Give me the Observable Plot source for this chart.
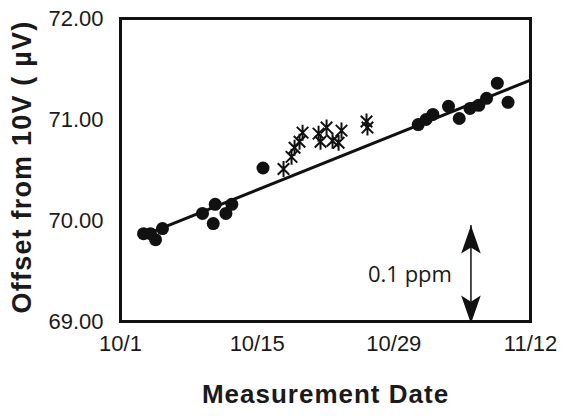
<!DOCTYPE html>
<html>
<head>
<meta charset="utf-8">
<script src="https://cdn.jsdelivr.net/npm/d3@7"></script>
<script src="https://cdn.jsdelivr.net/npm/@observablehq/plot@0.6"></script>
<style>
  html, body { margin: 0; padding: 0; background: #ffffff; }
</style>
</head>
<body>
<div id="chart"></div>
<script>
// Days after 10/1 and offsets from 10 V (µV)
const circleDay = [2.36, 3.07, 3.59, 4.30, 8.4, 9.5, 9.7, 10.8, 11.4, 14.6, 30.5, 31.3, 32.0, 33.6, 34.7, 35.8, 36.7, 37.5, 38.6, 39.7];
const circleVal = [69.87, 69.87, 69.81, 69.92, 70.07, 69.97, 70.16, 70.07, 70.16, 70.52, 70.95, 71.00, 71.05, 71.13, 71.01, 71.11, 71.14, 71.21, 71.36, 71.17];

const starDay = [16.7, 17.52, 17.83, 18.34, 18.65, 20.29, 20.49, 21.11, 21.72, 22.34, 22.64, 25.2, 25.3];
const starVal = [70.51, 70.63, 70.72, 70.78, 70.87, 70.86, 70.78, 70.92, 70.79, 70.77, 70.89, 70.98, 70.92];

// Fitted line end points
const fitDay = [2.3, 42];
const fitVal = [69.85, 71.39];

// Axis ticks
const xTickDays = [0, 14, 28, 42];
const xTickLabels = ["10/1", "10/15", "10/29", "11/12"];
const yTicks = [69, 70, 71, 72];

// Scale annotation: 0.1 ppm of 10 V = 1 µV
const scaleBarDay = [35.9];
const scaleBarLow = 68.98;
const scaleBarHigh = 69.95;
const scaleBarLabel = "0.1 ppm";

const circles = circleDay.map((d, i) => ({day: d, val: circleVal[i]}));
const stars = starDay.map((d, i) => ({day: d, val: starVal[i]}));
const fit = fitDay.map((d, i) => ({day: d, val: fitVal[i]}));

const arrowHead = {
  draw(ctx, size) {
    const r = Math.sqrt(size / Math.PI);
    const L = 2 * r, W = 0.7 * r;
    ctx.moveTo(0, 0);
    ctx.lineTo(W, L);
    ctx.lineTo(0, L * 0.78);
    ctx.lineTo(-W, L);
    ctx.closePath();
  }
};

// asterisk marker: vertical bar plus an X
const starMarker = {
  draw(ctx, size) {
    const r = Math.sqrt(size / Math.PI);
    const a = r * 0.72;
    ctx.moveTo(0, -r); ctx.lineTo(0, r);
    ctx.moveTo(-a, -a); ctx.lineTo(a, a);
    ctx.moveTo(-a, a); ctx.lineTo(a, -a);
  }
};

const chart = Plot.plot({
  width: 562,
  height: 416,
  marginLeft: 120,
  marginRight: 32,
  marginTop: 18,
  marginBottom: 95,
  style: {fontFamily: "'Liberation Sans', Arial, sans-serif", background: "#ffffff", color: "#1a1a1a"},
  x: {domain: [0, 42]},
  y: {domain: [69, 72]},
  marks: [
    Plot.axisX({ticks: xTickDays, tickFormat: d => xTickLabels[xTickDays.indexOf(d)], tickSize: 0, tickPadding: 14, fontSize: 22, label: null}),
    Plot.axisY({ticks: yTicks, tickFormat: d => d.toFixed(2), tickSize: 0, tickPadding: 17, fontSize: 22, label: null}),
    Plot.line(fit, {x: "day", y: "val", stroke: "#111", strokeWidth: 3}),
    Plot.dot(circles, {x: "day", y: "val", r: 6.5, fill: "#111", stroke: "none"}),
    Plot.dot(stars, {x: "day", y: "val", r: 8, symbol: starMarker, fill: "none", stroke: "#111", strokeWidth: 2}),
    Plot.ruleX(scaleBarDay, {y1: scaleBarLow, y2: scaleBarHigh, stroke: "#111", strokeWidth: 1.5}),
    Plot.dot(scaleBarDay, {x: d => d, y: scaleBarHigh, r: 14, symbol: arrowHead, fill: "#111", stroke: "none"}),
    Plot.dot(scaleBarDay, {x: d => d, y: scaleBarLow, r: 14, symbol: arrowHead, rotate: 180, fill: "#111", stroke: "none"}),
    Plot.text(scaleBarDay, {x: d => d, y: (scaleBarLow + scaleBarHigh) / 2, dx: -19, text: () => scaleBarLabel, textAnchor: "end", fontSize: 22, fontFamily: "'Open Sans', sans-serif", fill: "#1a1a1a"}),
    Plot.frame({stroke: "#111", strokeWidth: 3}),
    Plot.text(["Offset from 10V ( µV)"], {frameAnchor: "left", textAnchor: "middle", dx: -98, dy: -3, rotate: -90, fontSize: 27, fontWeight: "bold", fill: "#1a1a1a"}),
    Plot.text(["Measurement Date"], {frameAnchor: "bottom", textAnchor: "middle", dy: 81, fontSize: 26, fontWeight: "bold", fill: "#1a1a1a"})
  ]
});
d3.select(chart).selectAll("text")
  .filter(function() { return this.textContent.startsWith("Offset"); })
  .attr("letter-spacing", "1.2px");
d3.select(chart).selectAll("text")
  .filter(function() { return this.textContent === "Measurement Date"; })
  .attr("letter-spacing", "1px");
document.getElementById("chart").appendChild(chart);
</script>
</body>
</html>
